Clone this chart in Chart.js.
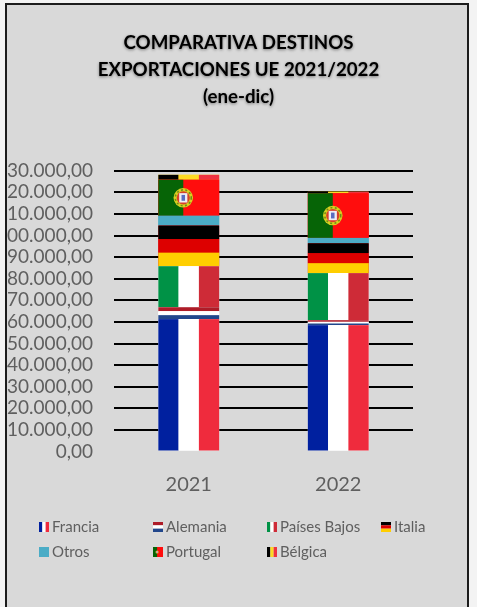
<!DOCTYPE html>
<html>
<head>
<meta charset="utf-8">
<title>Comparativa destinos</title>
<script src="https://cdn.jsdelivr.net/npm/chart.js@4"></script>
<style>
  html, body { margin: 0; padding: 0; background: #f3f3f3; overflow: hidden; }
  #frame {
    position: absolute; left: 5px; top: 3px; width: 460px; height: 610px;
    background: #d9d9d9; border: 2.5px solid #1c1c1c;
  }
  #c { position: absolute; left: 0; top: 0; filter: blur(0.35px); }
</style>
</head>
<body>
<div id="frame"></div>
<canvas id="c" width="477" height="607"></canvas>
<script>
const years = ["2021", "2022"];

const francia = [61300, 58500];
const alemania = [5500, 2300];
const paisesBajos = [19000, 21800];
const italia = [18800, 13800];
const otros = [4500, 2500];
const portugal = [16700, 20700];
const belgica = [2300, 700];

const tickLabels = ["0,00", "10.000,00", "20.000,00", "30.000,00", "40.000,00", "50.000,00", "60.000,00",
  "70.000,00", "80.000,00", "90.000,00", "00.000,00", "10.000,00", "20.000,00", "30.000,00"];

const titleLines = ["COMPARATIVA DESTINOS", "EXPORTACIONES UE 2021/2022", "(ene-dic)"];

const GREY = "#5f5f5f";

// the series are painted with flags, and the flags don't match the names (same as the original)
function stripes(ctx, x, y, w, h, colors, vertical) {
  const n = colors.length;
  colors.forEach((col, i) => {
    ctx.fillStyle = col;
    if (vertical) ctx.fillRect(x + w * i / n, y, w / n, h);
    else ctx.fillRect(x, y + h * i / n, w, h / n);
  });
}

const flags = {
  fr: (ctx, x, y, w, h) => stripes(ctx, x, y, w, h, ["#00209f", "#ffffff", "#ef2b3d"], true),
  nl: (ctx, x, y, w, h) => stripes(ctx, x, y, w, h, ["#ae1c28", "#ffffff", "#21468b"], false),
  it: (ctx, x, y, w, h) => stripes(ctx, x, y, w, h, ["#009246", "#ffffff", "#ce2b37"], true),
  de: (ctx, x, y, w, h) => stripes(ctx, x, y, w, h, ["#000000", "#dd0000", "#ffce00"], false),
  be: (ctx, x, y, w, h) => stripes(ctx, x, y, w, h, ["#000000", "#fdda24", "#ef3340"], true),
  plain: (ctx, x, y, w, h) => stripes(ctx, x, y, w, h, ["#4bacc6"], true),
  pt: (ctx, x, y, w, h) => {
    ctx.fillStyle = "#ff0d0d";
    ctx.fillRect(x, y, w, h);
    ctx.fillStyle = "#066406";
    ctx.fillRect(x, y, w * 0.41, h);
    // escudo
    const cx = x + w * 0.41, cy = y + h / 2, r = w * 0.16;
    ctx.beginPath();
    ctx.arc(cx, cy, r, 0, Math.PI * 2);
    ctx.fillStyle = "#d8d020";
    ctx.fill();
    ctx.beginPath();
    ctx.arc(cx, cy, r * 0.82, 0, Math.PI * 2);
    ctx.strokeStyle = "#6f8a18";
    ctx.lineWidth = r * 0.16;
    ctx.setLineDash([r * 0.2, r * 0.25]);
    ctx.stroke();
    ctx.setLineDash([]);
    ctx.beginPath();
    ctx.arc(cx, cy, r * 0.68, 0, Math.PI * 2);
    ctx.fillStyle = "#d8402a";
    ctx.fill();
    ctx.fillStyle = "#eeeef4";
    ctx.fillRect(cx - r * 0.42, cy - r * 0.48, r * 0.84, r * 0.96);
    ctx.fillStyle = "#5a6cc0";
    ctx.fillRect(cx - r * 0.18, cy - r * 0.3, r * 0.36, r * 0.6);
  },
};

const flagPlugin = {
  id: "flagPlugin",
  afterDatasetDraw(chart, args) {
    const ds = chart.data.datasets[args.index];
    const ctx = chart.ctx;
    args.meta.data.forEach((bar) => {
      const { x, y, base, width } = bar.getProps(["x", "y", "base", "width"], true);
      flags[ds.flag](ctx, x - width / 2, y, width, base - y);
    });
  },
};

// the legend has 4 fixed columns, the built in one can't do that
const columnLegend = {
  id: "columnLegend",
  afterDraw(chart) {
    const ctx = chart.ctx;
    ctx.save();
    ctx.font = "15px Lato";
    ctx.textBaseline = "middle";
    ctx.textAlign = "left";
    chart.data.datasets.forEach((ds, i) => {
      const x = 39 + (i % 4) * 114;
      const y = 527 + Math.floor(i / 4) * 25;
      flags[ds.flag](ctx, x, y - 5, 10, 10);
      ctx.fillStyle = GREY;
      ctx.fillText(ds.label, x + 13, y);
    });
    ctx.restore();
  },
};

// title box stops at the right padding, so push it back to the middle of the frame
const titleShadow = {
  id: "titleShadow",
  afterInit(chart) {
    const block = chart.titleBlock;
    const draw = block.draw;
    block.draw = function () {
      const ctx = chart.ctx;
      ctx.save();
      ctx.translate(32, 0);
      ctx.shadowColor = "rgba(0,0,0,0.45)";
      ctx.shadowBlur = 3;
      ctx.shadowOffsetY = 1;
      draw.call(block);
      ctx.restore();
    };
  },
};

const makeSet = (label, data, flag, color) => ({
  label, data, flag, backgroundColor: color, barPercentage: 0.407, categoryPercentage: 1,
});

new Chart(document.getElementById("c"), {
  type: "bar",
  data: {
    labels: years,
    datasets: [
      makeSet("Francia", francia, "fr", "#ffffff"),
      makeSet("Alemania", alemania, "nl", "#ffffff"),
      makeSet("Países Bajos", paisesBajos, "it", "#ffffff"),
      makeSet("Italia", italia, "de", "#dd0000"),
      makeSet("Otros", otros, "plain", "#4bacc6"),
      makeSet("Portugal", portugal, "pt", "#ff0d0d"),
      makeSet("Bélgica", belgica, "be", "#fdda24"),
    ],
  },
  plugins: [flagPlugin, columnLegend, titleShadow],
  options: {
    responsive: false,
    animation: false,
    layout: { padding: { right: 64 } },
    plugins: {
      legend: { display: false },
      tooltip: { enabled: false },
      title: {
        display: true,
        text: titleLines,
        color: "#000000",
        font: { family: "Lato", size: 18.7, weight: "bold", lineHeight: 1.43 },
        padding: { top: 30, bottom: 60.5 },
      },
    },
    scales: {
      x: {
        stacked: true,
        grid: { display: false },
        border: { display: false },
        ticks: { color: GREY, font: { family: "Lato", size: 20 }, padding: 13 },
        afterFit(scale) { scale.height = 155.5; },
      },
      y: {
        stacked: true,
        min: 0,
        max: 130000,
        border: { display: false },
        grid: {
          drawTicks: false,
          lineWidth: 2,
          color: (c) => (c.tick.value === 0 ? "transparent" : "#000000"),
        },
        ticks: {
          stepSize: 10000,
          autoSkip: false,
          color: GREY,
          font: { family: "Lato", size: 19 },
          padding: 21,
          callback: (value, i) => tickLabels[i],
        },
        afterFit(scale) { scale.width = 114; },
      },
    },
  },
});
</script>
</body>
</html>
